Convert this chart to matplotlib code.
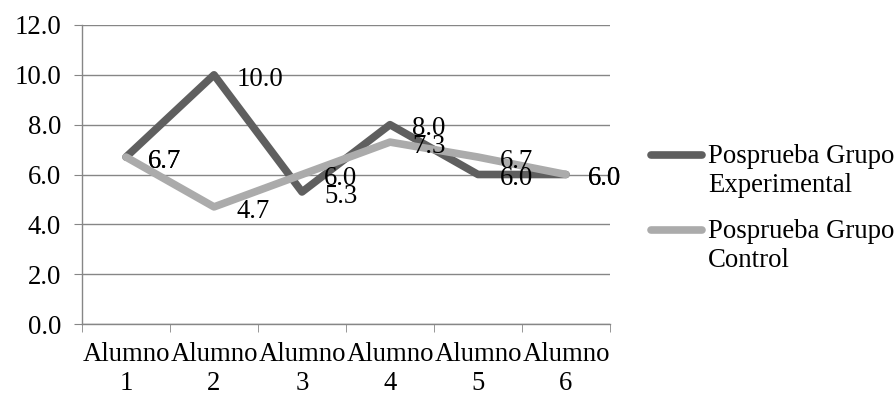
import numpy as np
import matplotlib.pyplot as plt
from matplotlib.lines import Line2D

# -------- DATA --------
categories = ['Alumno\n1', 'Alumno\n2', 'Alumno\n3', 'Alumno\n4', 'Alumno\n5', 'Alumno\n6']
experimental = [6.7, 10.0, 5.3, 8.0, 6.0, 6.0]
control = [6.7, 4.7, 6.0, 7.3, 6.7, 6.0]
series_names = ['Posprueba Grupo\nExperimental', 'Posprueba Grupo\nControl']
yticks = [0, 2, 4, 6, 8, 10, 12]
# -------- DATA. --------

FS = 19.3
W, H = 896, 396
plt.rcParams['font.family'] = ['Liberation Serif', 'DejaVu Serif']
plt.rcParams['font.size'] = FS

fig = plt.figure(figsize=(W / 100, H / 100), dpi=100, facecolor='w')
ax = fig.add_axes([82 / W, 1 - 324 / H, 528 / W, 299 / H])

x = np.arange(len(categories))
colors = ['#5f5f5f', '#ababab']
lw = 5.5
for vals, col, name in zip([experimental, control], colors, series_names):
    ax.plot(x, vals, color=col, linewidth=lw, solid_capstyle='round',
            solid_joinstyle='round', label=name, zorder=3)
    # ---- value labels to the right of each point
    for xi, v in zip(x, vals):
        ax.annotate('{:.1f}'.format(v), (xi, v), xytext=(16, -3), textcoords='offset points',
                    ha='left', va='center', fontsize=FS, color='black', zorder=4)

# ---- axes styling
ax.set_xlim(-0.5, len(categories) - 0.5)
ax.set_ylim(0, 12)
ax.set_yticks(yticks)
ax.set_yticklabels(['{:.1f}'.format(t) for t in yticks])
ax.set_xticks(x)
ax.set_xticklabels(categories, linespacing=1.2)
ax.set_xticks(np.arange(-0.5, len(categories)), minor=True)
ax.tick_params(axis='x', which='major', length=0, pad=13)
ax.tick_params(axis='x', which='minor', length=6, color='#868686', direction='out')
ax.tick_params(axis='y', length=6, color='#868686', direction='out', pad=9)

ax.yaxis.grid(True, color='#868686', linewidth=1)
ax.set_axisbelow(True)
for side in ['top', 'right']:
    ax.spines[side].set_visible(False)
for side in ['left', 'bottom']:
    ax.spines[side].set_color('#868686')
    ax.spines[side].set_linewidth(1)

# ---- legend: key line level with the first text line of each entry
entry_y = [155, 230]
for name, col, ey in zip(series_names, colors, entry_y):
    yf = 1 - ey / H
    fig.add_artist(Line2D([651 / W, 702 / W], [yf, yf], color=col, linewidth=lw,
                          solid_capstyle='round', transform=fig.transFigure))
    fig.text(708 / W, 1 - (ey - 11) / H, name, ha='left', va='top', fontsize=FS,
             linespacing=1.2)

plt.savefig('out.png', dpi=100)
plt.close()
